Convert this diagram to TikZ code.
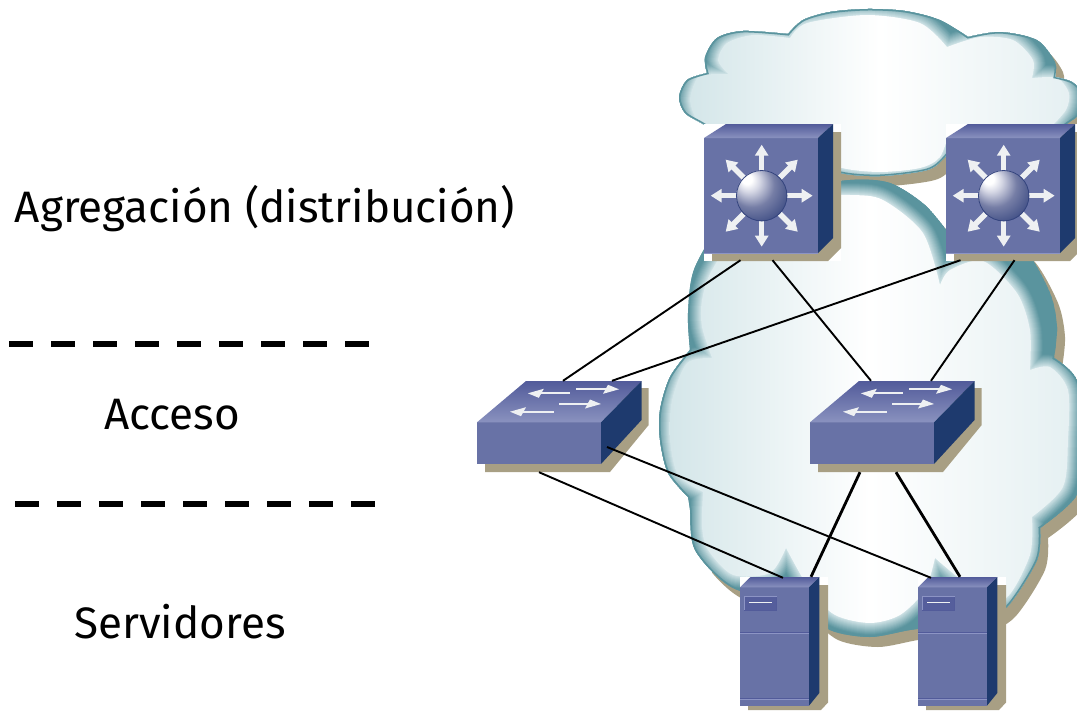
\documentclass[tikz,border=0pt]{standalone}
\usepackage{fontspec}
\setmainfont{Fira Sans}
\usepackage{tikz}
\usetikzlibrary{calc}
\usetikzlibrary{arrows.meta}
\definecolor{devfront}{HTML}{6872A6}
\definecolor{devedge}{HTML}{8C94C4}
\definecolor{devtopa}{HTML}{525B9A}
\definecolor{devtopb}{HTML}{8A92BF}
\definecolor{devside}{HTML}{1E3A6E}
\definecolor{devshadow}{HTML}{A89F84}
\definecolor{devarrow}{HTML}{EEF0F2}
\definecolor{ringdark}{HTML}{5A949E}
\definecolor{ringlight}{HTML}{D4E6E9}
\definecolor{balla}{HTML}{D4D6E4}
\definecolor{ballb}{HTML}{767EA6}
\definecolor{ballc}{HTML}{34447E}
\definecolor{balld}{HTML}{1A2A60}
\pgfdeclareradialshading{routerball}{\pgfpoint{-16bp}{18bp}}{
    color(0bp)=(white);
    color(5bp)=(white);
    color(11bp)=(balla);
    color(22bp)=(ballb);
    color(38bp)=(ballc);
    color(56bp)=(balld)}
\tikzset{
    front/.style={fill=devfront},
    top/.style={top color=devtopa,bottom color=devtopb},
    side/.style={fill=devside},
    shadow/.style={fill=devshadow},
    link/.style={line width=1.9pt,color=black},
    thicklink/.style={line width=2.8pt,color=black},
    sepline/.style={line width=6pt,color=black,dash pattern=on 24.3pt off 17.7pt},
    lbl/.style={font=\fontsize{44}{44}\selectfont,inner sep=0pt},
    upper outer/.style={insert path={
        plot[smooth] coordinates {(720,135) (703,124) (685,113) (679,97) (687,80) (707,73)}
        -- plot[smooth] coordinates {(707,73) (705,57) (717,38) (743,31) (788,34)}
        -- plot[smooth] coordinates {(788,34) (803,20) (830,12) (867,9) (905,11) (940,20) (968,37)}
        -- plot[smooth] coordinates {(968,37) (1000,32) (1037,40) (1055,62) (1055,77)}
        -- plot[smooth] coordinates {(1055,77) (1072,82) (1085,95) (1085,110) (1068,123) (1050,135)}
        -- plot[smooth] coordinates {(960,135) (945,157) (927,170) (880,176) (841,173) (815,160) (810,135)}
        -- cycle}},
    upper inner/.style={insert path={
        plot[smooth] coordinates {(715,130) (697,120) (690,100) (695,82) (702,75) (728,74)}
        -- plot[smooth] coordinates {(728,74) (718,60) (727,43) (753,35) (790,38)}
        -- plot[smooth] coordinates {(790,38) (807,23) (867,15) (920,23) (947,47)}
        -- plot[smooth] coordinates {(947,47) (980,37) (1013,40) (1033,60) (1032,78)}
        -- plot[smooth] coordinates {(1032,78) (1057,78) (1069,93) (1066,110) (1050,128)}
        -- plot[smooth] coordinates {(950,130) (940,157) (920,168) (880,172) (842,168) (815,155) (810,130)}
        -- cycle}},
    lower outer/.style={insert path={
        plot[smooth] coordinates {(690,350) (688,313) (695,267) (730,215) (790,190) (850,180) (890,183) (925,205) (950,235)}
        -- plot[smooth] coordinates {(950,235) (990,235) (1025,250) (1050,293) (1057,327) (1054,358)}
        -- plot[smooth] coordinates {(1054,358) (1077,380) (1090,440) (1077,495) (1040,528)}
        -- plot[smooth] coordinates {(1040,528) (1037,560) (1007,607) (975,625) (950,625)}
        -- plot[smooth] coordinates {(950,625) (910,630) (870,637) (830,630) (800,605)}
        -- plot[smooth] coordinates {(800,605) (733,588) (695,550) (690,510) (688,497)}
        -- plot[smooth] coordinates {(688,497) (668,473) (660,440) (660,410) (670,377) (690,350)}
        -- cycle}},
    lower inner/.style={insert path={
        plot[smooth] coordinates {(712,358) (702,327) (702,300) (712,270) (750,215) (800,197) (850,195) (883,200) (923,233) (940,285)}
        -- plot[smooth] coordinates {(940,285) (950,270) (983,261) (1017,293) (1030,330) (1030,370)}
        -- plot[smooth] coordinates {(1030,370) (1050,367) (1068,390) (1068,440) (1063,487) (1032,517)}
        -- plot[smooth] coordinates {(1032,517) (1030,555) (1006,598) (975,590) (935,558)}
        -- plot[smooth] coordinates {(935,558) (925,590) (900,615) (870,623) (835,615) (810,590) (786,548)}
        -- plot[smooth] coordinates {(786,548) (770,573) (733,575) (708,550) (702,527) (703,492)}
        -- plot[smooth] coordinates {(703,492) (678,475) (670,440) (672,400) (687,363) (712,358)}
        -- cycle}},
    router/.pic={
        \node[fill=white,inner sep=0pt,minimum size=137pt] (-box) at (68.5,68.5) {};
        \fill[shadow] (30,8) -- (137,8) -- (137,124) -- (124,137) -- (8,137) -- (8,125) -- (30,125) -- cycle;
        \fill[front] (0,14) rectangle (114,129);
        \shade[top] (0,14) -- (22,0) -- (129,0) -- (114,14) -- cycle;
        \fill[side] (114,14) -- (129,0) -- (129,114) -- (114,129) -- cycle;
        \draw[devedge,line width=0.7pt] (0,129) -- (114,129);
        \foreach \a in {0,45,...,315} {
            \draw[devarrow,line width=5.5pt,-{Triangle[length=11pt,width=13pt]}]
            ($(57.7,71.7)+(\a:24)$) -- ($(57.7,71.7)+(\a:51)$);
        }
        \shade[shading=routerball] (57.7,71.7) circle (25.5);
        \draw[ballc,line width=0.8pt] (57.7,71.7) circle (25.2);
    },
    switch/.pic={
        \node[inner sep=0pt,minimum width=172pt,minimum height=91pt] (-box) at (86,45.5) {};
        \fill[shadow] (150,7) -- (171.7,7) -- (171.7,44) -- (133,91) -- (8,91) -- (8,80) -- (120,80) -- cycle;
        \fill[front] (0,41.3) rectangle (124,83);
        \shade[top] (0,41.3) -- (49,0) -- (164.5,0) -- (124,41.3) -- cycle;
        \fill[side] (124,41.3) -- (164.5,0) -- (164.5,39) -- (124,83) -- cycle;
        \foreach \tipx/\tailx/\yy in {50.8/93.2/12.3,33/76.7/30.7} {
            \draw[devarrow,line width=1.8pt] (\tipx+8,\yy) -- (\tailx,\yy);
            \fill[devarrow] (\tipx,\yy) -- (\tipx+16,\yy-4.5) -- (\tipx+11,\yy+4.5) -- cycle;
        }
        \foreach \tipx/\tailx/\yy in {142/99/8.3,124/81.8/23} {
            \draw[devarrow,line width=1.8pt] (\tipx-8,\yy) -- (\tailx,\yy);
            \fill[devarrow] (\tipx,\yy) -- (\tipx-11,\yy-4.5) -- (\tipx-16,\yy+4.5) -- cycle;
        }
    },
    server/.pic={
        \node[fill=white,inner sep=0pt,minimum width=88pt,minimum height=133pt] (-box) at (44,66.5) {};
        \fill[shadow] (8,8) -- (88,8) -- (88,125.5) -- (81,133) -- (8,133) -- cycle;
        \fill[front] (0,10.3) rectangle (69,128.7);
        \shade[top] (0,10.3) -- (10.5,0) -- (79.3,0) -- (69,10.3) -- cycle;
        \fill[side] (69,10.3) -- (79.3,0) -- (79.3,116) -- (69,128.7) -- cycle;
        \draw[devtopa,line width=0.8pt,fill=devtopa!85!devfront] (4.3,19) rectangle (36.7,33);
        \draw[devedge,line width=0.8pt] (4.3,33) -- (4.3,19) -- (36.7,19);
        \draw[devarrow,line width=1.4pt] (9.3,25.3) -- (32.3,25.3);
        \foreach \yy in {55.7,121} {
            \draw[devtopa,line width=0.7pt] (0,\yy) -- (69,\yy);
            \draw[devedge,line width=0.7pt] (0,\yy+1) -- (69,\yy+1);
        }
    },
}
\begin{document}
\begin{tikzpicture}[x=1pt,y=-1pt]
    \clip (0,0) rectangle (1077,710);
    \foreach \part/\edgex in {upper/704,lower/712} {
        \begin{scope}
            \clip (\edgex,0) rectangle (1077,710);
            \begin{scope}[shift={(8,10)}]
                \fill[shadow,\part\space outer];
            \end{scope}
        \end{scope}
        \begin{scope}
            \clip[\part\space outer];
            \fill[ringdark,\part\space outer];
            \foreach \w [evaluate=\w as \m using 100-\w*4] in {24,22,...,2} {
                \draw[ringlight!\m!ringdark,line width=\w pt,line join=round,\part\space inner];
            }
            \shade[left color=ringlight,right color=ringlight!60!white,middle color=white,\part\space inner];
            \draw[ringdark,line width=3pt,\part\space outer];
        \end{scope}
    }

    \pic (agg1) at (704,124) {router};
    \pic (agg2) at (946,124) {router};
    \pic (acc1) at (477,381) {switch};
    \pic (acc2) at (810,381) {switch};
    \pic (srv1) at (740,577) {server};
    \pic (srv2) at (918,577) {server};

    \draw[link] ($(agg1-box.south)+(-32,-1)$) -- (acc1-box.north);
    \draw[link] ($(agg1-box.south)+(0,-1)$) -- ($(acc2-box.north)+(-25,0)$);
    \draw[link] ($(agg2-box.south)+(-54,-1)$) -- ($(acc1-box.north)+(49,0)$);
    \draw[link] ($(agg2-box.south)+(0,-1)$) -- ($(acc2-box.north)+(35,0)$);
    \draw[link] ($(acc1-box.south)+(-24,0)$) -- ($(srv1-box.north)+(-1,1)$);
    \draw[link] ($(acc1-box.center)+(44,20.5)$) -- ($(srv2-box.north)+(-31,1)$);
    \draw[thicklink] ($(acc2-box.south)+(-36,0)$) -- ($(srv1-box.north)+(27,0)$);
    \draw[thicklink] (acc2-box.south) -- ($(srv2-box.north)+(-2,0)$);

    \coordinate (sep1a) at (9,344.3);
    \coordinate (sep1b) at (370,344.3);
    \coordinate (sep2a) at (15,504);
    \coordinate (sep2b) at (376,504);
    \draw[sepline] (sep1a) -- (sep1b);
    \draw[sepline] (sep2a) -- (sep2b);

    \node[lbl] (lblagg) at (265,209) {Agregación (distribución)};
    \node[lbl] (lblacc) at (172,415) {Acceso};
    \node[lbl] (lblsrv) at (180,622) {Servidores};
\end{tikzpicture}
\end{document}
